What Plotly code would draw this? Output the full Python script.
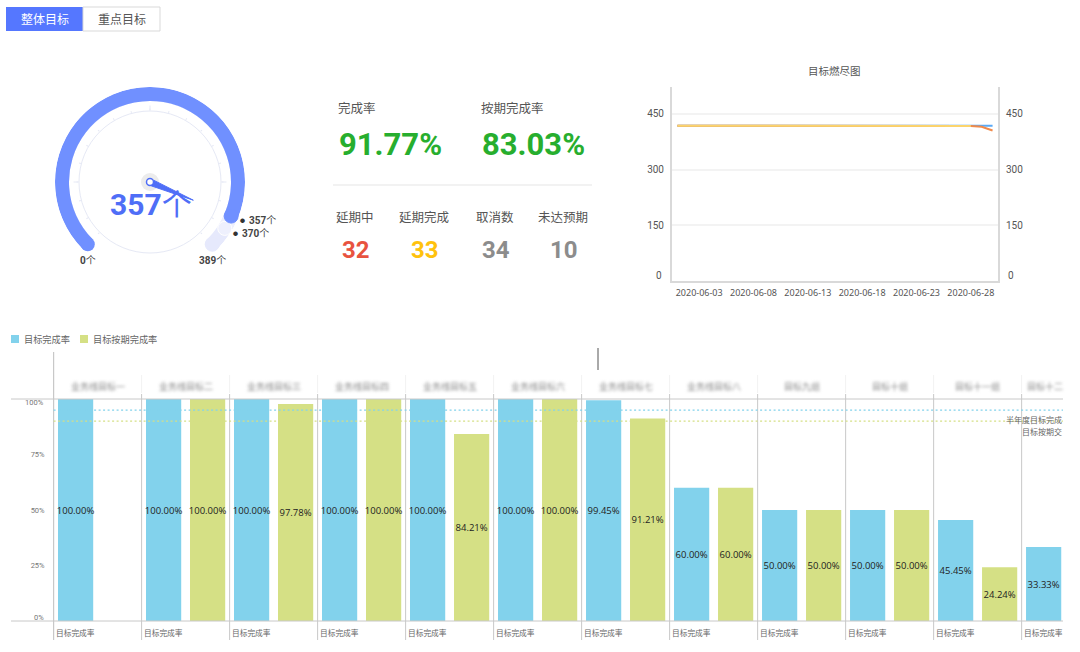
import json
import plotly.graph_objects as go

W, H = 1080, 652
CJK = "'Noto Sans CJK SC', sans-serif"
NUM = "Roboto, 'Noto Sans CJK SC', sans-serif"

# gauge
gauge_value = 357
gauge_target = 370
gauge_max = 389
gauge_sweep = 270
small_ticks = [0, 15, 30, 45, 60, 75, 90, 105, 120, 135, 150, 165, 180, 195, 210, 225, 240, 255, 270]
big_ticks = [45, 135, 225]

# numbers in the middle
rate_labels = ["完成率", "按期完成率"]
rate_values = ["91.77%", "83.03%"]
count_labels = ["延期中", "延期完成", "取消数", "未达预期"]
count_values = [32, 33, 34, 10]
count_colors = ["#e8533f", "#ffc20e", "#8c8c8c", "#8c8c8c"]

# burndown
burn_dates = ["2020-06-%02d" % d for d in range(1, 31)]
burn_ticks = ["2020-06-03", "2020-06-08", "2020-06-13", "2020-06-18", "2020-06-23", "2020-06-28"]
burn_plan = [418] * 30
burn_actual = [418] * 26 + [417, 417, 415, 405]
burn_due = [418] * 26 + [417, 417, None, None]
burn_y_ticks = [150, 300, 450]

# bars, the real group names are blurred in the source so these are stand-ins
groups = ["业务线目标一", "业务线目标二", "业务线目标三", "业务线目标四", "业务线目标五", "业务线目标六",
          "业务线目标七", "业务线目标八", "目标九组", "目标十组", "目标十一组", "目标十二"]
done_rate = [100, 100, 100, 100, 100, 100, 99.45, 60, 50, 50, 45.45, 33.33]
due_rate = [None, 100, 97.78, 100, 84.21, 100, 91.21, 60, 50, 50, 24.24, None]
goal_done = 95
goal_due = 90
bar_y_ticks = [25, 50, 75]
legend_names = ["目标完成率", "目标按期完成率"]
BLUE, GREEN = "#82d2ec", "#d5e085"


def px(x):
    return x / W


def py(y):
    return 1 - y / H


def to_theta(v):
    return gauge_sweep * v / gauge_max


def note(x, y, text, size=10, color="#555555", anchor="center", family=CJK, **kw):
    return dict(x=px(x), y=py(y), xref="paper", yref="paper", text=text, showarrow=False,
                xanchor=anchor, yanchor="middle", font=dict(size=size, color=color, family=family), **kw)


def line(x0, y0, x1, y1, color="#c8c8c8", width=1, dash=None, **kw):
    return dict(type="line", xref="paper", yref="paper", x0=px(x0), y0=py(y0), x1=px(x1), y1=py(y1),
                line=dict(color=color, width=width, dash=dash), **kw)


fig = go.Figure()

# gauge band, pale parts first
arc_colors = ["#e6e9fc", "#eef0fd", "#7090ff"]
cap_edges = ["#e6e9fc", "#ffffff", "#7090ff"]
for v, c, e in zip([gauge_max, gauge_target, gauge_value], arc_colors, cap_edges):
    fig.add_trace(go.Barpolar(r=[14], base=[81], theta=[to_theta(v) / 2], width=[to_theta(v)],
                              marker=dict(color=c, line=dict(width=0)), subplot="polar3", showlegend=False))
    fig.add_trace(go.Scatterpolar(r=[88], theta=[to_theta(v)], mode="markers", subplot="polar3", showlegend=False,
                                  marker=dict(color=c, size=14, line=dict(color=e, width=1))))
fig.add_trace(go.Scatterpolar(r=[88], theta=[0], mode="markers", subplot="polar3", showlegend=False,
                              marker=dict(color="#7090ff", size=14)))

# needle
t = to_theta(gauge_value)
fig.add_trace(go.Scatterpolar(r=[0], theta=[0], mode="markers", subplot="polar3", showlegend=False,
                              marker=dict(color="#ececec", size=18)))
fig.add_trace(go.Scatterpolar(r=[4, 47, 4], theta=[t - 50, t, t + 50], mode="lines", fill="toself",
                              fillcolor="#4f6ef7", line=dict(color="#4f6ef7", width=1),
                              subplot="polar3", showlegend=False))
fig.add_trace(go.Scatterpolar(r=[0], theta=[0], mode="markers", subplot="polar3", showlegend=False,
                              marker=dict(color="#ffffff", size=7, line=dict(color="#4f6ef7", width=1.5))))

# these two only exist to carry the ring and its ticks
fig.add_trace(go.Scatterpolar(r=[0], theta=[0], mode="markers", subplot="polar", showlegend=False,
                              marker=dict(size=1, opacity=0)))
fig.add_trace(go.Scatterpolar(r=[0], theta=[0], mode="markers", subplot="polar2", showlegend=False,
                              marker=dict(size=1, opacity=0)))

# burndown, yellow sits on the top axis so it stays over the blue
fig.add_trace(go.Scatter(x=burn_dates, y=burn_plan, mode="lines", line=dict(color="#5aa9f5", width=2),
                         xaxis="x2", yaxis="y2", showlegend=False))
fig.add_trace(go.Scatter(x=burn_dates, y=burn_actual, mode="lines", line=dict(color="#f08a4b", width=2),
                         xaxis="x2", yaxis="y2", showlegend=False))
fig.add_trace(go.Scatter(x=burn_dates, y=burn_due, mode="lines", line=dict(color="#fbd46d", width=2),
                         xaxis="x2", yaxis="y3", showlegend=False))

# bars
for name, vals, color in zip(legend_names, [done_rate, due_rate], [BLUE, GREEN]):
    fig.add_trace(go.Bar(x=groups, y=vals, name=name, marker=dict(color=color, line=dict(width=0)),
                         text=["" if v is None else "%.2f%%" % v for v in vals],
                         textposition="inside", insidetextanchor="middle", textangle=0, constraintext="none",
                         textfont=dict(size=9.5, color="#222222", family="'Open Sans', sans-serif"),
                         showlegend=False))

shapes = []
notes = []

# buttons
shapes.append(dict(type="rect", xref="paper", yref="paper", x0=px(6), x1=px(83), y0=py(7), y1=py(31),
                   fillcolor="#5577ff", line=dict(width=0)))
shapes.append(dict(type="rect", xref="paper", yref="paper", x0=px(83), x1=px(160), y0=py(7), y1=py(31),
                   fillcolor="#ffffff", line=dict(color="#d9d9d9", width=1)))
notes.append(note(45, 19, "整体目标", size=12, color="#ffffff"))
notes.append(note(122, 19, "重点目标", size=12, color="#555555"))

# gauge labels
notes.append(note(151, 204.5, "<b>%d</b>个" % gauge_value, size=30, color="#4f6ef7", family=NUM))
notes.append(note(88, 260.5, "<b>%d</b>个" % 0, size=10, color="#444444", family=NUM))
notes.append(note(212, 260.5, "<b>%d</b>个" % gauge_max, size=10, color="#444444", family=NUM))
notes.append(note(242, 220, "●", size=5, color="#333333", family=NUM))
notes.append(note(235, 233, "●", size=5, color="#333333", family=NUM))
notes.append(note(246.5, 220, "<b>%d</b>个" % gauge_value, size=10, color="#444444", anchor="left", family=NUM))
notes.append(note(239.5, 233, "<b>%d</b>个" % gauge_target, size=10, color="#444444", anchor="left", family=NUM))

# rates and counts
for x, lab, val in zip([336, 479], rate_labels, rate_values):
    notes.append(note(x, 108, lab, size=12.5, anchor="left"))
    notes.append(note(x + 1, 145, "<b>%s</b>" % val, size=31, color="#27ae2e", anchor="left", family=NUM))
shapes.append(line(333, 185, 592, 185, color="#eeeeee", width=1.5))
for x, lab, val, c in zip([355, 424, 495, 563], count_labels, count_values, count_colors):
    notes.append(note(x, 217, lab, size=12.5))
    notes.append(note(x + 1, 250, "<b>%d</b>" % val, size=24, color=c, family=NUM))

# burndown title and the zero labels sitting just above the axis
notes.append(note(834, 70, "目标燃尽图", size=10.5))
notes.append(note(664, 275, "0", size=10, anchor="right", family=NUM))
notes.append(note(1006, 275, "0", size=10, anchor="left", family=NUM))

# bar chart legend
for x0, name, color in zip([11, 80], legend_names, [BLUE, GREEN]):
    shapes.append(dict(type="rect", xref="paper", yref="paper", x0=px(x0), x1=px(x0 + 8), y0=py(335), y1=py(343),
                       fillcolor=color, line=dict(width=0)))
    notes.append(note(x0 + 10.5, 339, name, size=9.2, color="#666666", anchor="left"))

# bar chart frame
shapes.append(line(53.6, 352, 53.6, 640, width=1.2))
shapes.append(line(11, 399, 1063, 399))
shapes.append(line(11, 621, 1063, 621))
shapes.append(line(598, 348, 598, 370, color="#555555", width=1))

for i, g in enumerate(groups):
    if i > 0:
        shapes.append(dict(type="line", xref="x", yref="paper", x0=i - 0.5, x1=i - 0.5, y0=py(394), y1=py(640),
                           line=dict(color="#c8c8c8", width=1), layer="below"))
    shapes.append(dict(type="line", xref="x", yref="paper", x0=i - 0.5, x1=i - 0.5, y0=py(375), y1=py(393),
                       line=dict(color="#f2f2f2", width=1), layer="below"))
    notes.append(dict(x=i - 0.5, y=py(632), xref="x", yref="paper", text=legend_names[0], showarrow=False,
                      xanchor="left", yanchor="middle", font=dict(size=7.7, color="#666666", family=CJK)))
    # last column is cut by the chart edge, keep its name inside
    notes.append(dict(x=i - 0.5, y=py(386.5), xref="x", yref="paper", text=g, showarrow=False, yanchor="middle",
                      xshift=44 if i < len(groups) - 1 else 23, font=dict(size=9, color="#888888", family=CJK)))

for v, c in zip([goal_done, goal_due], [BLUE, GREEN]):
    shapes.append(dict(type="line", xref="x domain", yref="y", x0=0, x1=1, y0=v, y1=v,
                       line=dict(color=c, width=1.3, dash="2px,2.5px")))
notes.append(note(1064, 420, "半年度目标完成", size=8, color="#666666", anchor="right"))
notes.append(note(1064, 431.5, "目标按期交", size=8, color="#666666", anchor="right"))
notes.append(note(46, 402, "100%", size=7.5, color="#777777", anchor="right", family=NUM))
notes.append(note(46, 617, "0%", size=7.5, color="#777777", anchor="right", family=NUM))

hidden_angular = dict(visible=False, rotation=225, direction="clockwise", thetaunit="degrees")
gauge_box = dict(x=[px(55), px(245)], y=[py(277), py(87)])
ring_box = dict(x=[px(79), px(221)], y=[py(253), py(111)])


def ring_polar(ticklen, tickvals, showline, width):
    return dict(domain=ring_box, bgcolor="rgba(0,0,0,0)",
                radialaxis=dict(visible=False, range=[0, 71]),
                angularaxis=dict(rotation=225, direction="clockwise", thetaunit="degrees", showgrid=False,
                                 showticklabels=False, ticks="outside", ticklen=ticklen, tickwidth=width,
                                 tickcolor="#e6e9f5", tickmode="array", tickvals=tickvals,
                                 showline=showline, linecolor="#e6e9f5", linewidth=1))


fig.update_layout(
    width=W, height=H, margin=dict(l=0, r=0, t=0, b=0), autosize=False,
    paper_bgcolor="#ffffff", plot_bgcolor="#ffffff", showlegend=False,
    font=dict(family=CJK, color="#555555"),
    barmode="group", bargap=0, bargroupgap=0.2,
    polar=ring_polar(2, small_ticks, True, 1),
    polar2=ring_polar(5, big_ticks, False, 1),
    polar3=dict(domain=gauge_box, bgcolor="rgba(0,0,0,0)", barmode="overlay",
                radialaxis=dict(visible=False, range=[0, 95]), angularaxis=hidden_angular),
    xaxis=dict(domain=[px(53.6), px(1063)], type="category", categoryorder="array", categoryarray=groups,
               range=[-0.5, 10.97], showticklabels=False, showgrid=False, zeroline=False, ticks="", anchor="y"),
    yaxis=dict(domain=[py(621), py(399)], range=[0, 100], tickmode="array", tickvals=bar_y_ticks,
               ticktext=["%d%%" % v for v in bar_y_ticks], showgrid=False, zeroline=False, ticks="",
               ticklabelstandoff=8, tickfont=dict(size=7.5, color="#777777", family=NUM), anchor="x"),
    xaxis2=dict(domain=[px(672), px(998)], type="category", categoryorder="array", categoryarray=burn_dates,
                range=[-0.5, 29.5], tickmode="array", tickvals=burn_ticks, ticktext=burn_ticks, showgrid=False,
                zeroline=False, showline=True, linecolor="#d9d9d9", linewidth=2, ticks="", ticklabelstandoff=2,
                tickfont=dict(size=9, color="#555555", family="'Noto Sans', sans-serif"), anchor="y2"),
    yaxis2=dict(domain=[py(281), py(87)], range=[0, 522], tickmode="array", tickvals=burn_y_ticks,
                showgrid=True, gridcolor="#f3f3f3", gridwidth=2, zeroline=False, showline=True,
                linecolor="#d9d9d9", linewidth=2, ticks="", ticklabelstandoff=4,
                tickfont=dict(size=10, color="#555555", family=NUM), anchor="x2"),
    yaxis3=dict(domain=[py(281), py(87)], range=[0, 522], tickmode="array", tickvals=burn_y_ticks,
                overlaying="y2", side="right", showgrid=False, zeroline=False, showline=True,
                linecolor="#d9d9d9", linewidth=2, ticks="", ticklabelstandoff=4,
                tickfont=dict(size=10, color="#555555", family=NUM), anchor="x2"),
    shapes=shapes, annotations=notes,
)

# the group names are blurred in the source picture
blur = """
document.body.style.margin = '0';
var names = %s;
document.querySelectorAll('.annotation-text').forEach(function (el) {
    if (names.indexOf(el.textContent) >= 0) { el.style.filter = 'blur(1.8px)'; }
});
""" % json.dumps(groups, ensure_ascii=False)

fig.write_html("out.html", post_script=blur, config={"displayModeBar": False})
